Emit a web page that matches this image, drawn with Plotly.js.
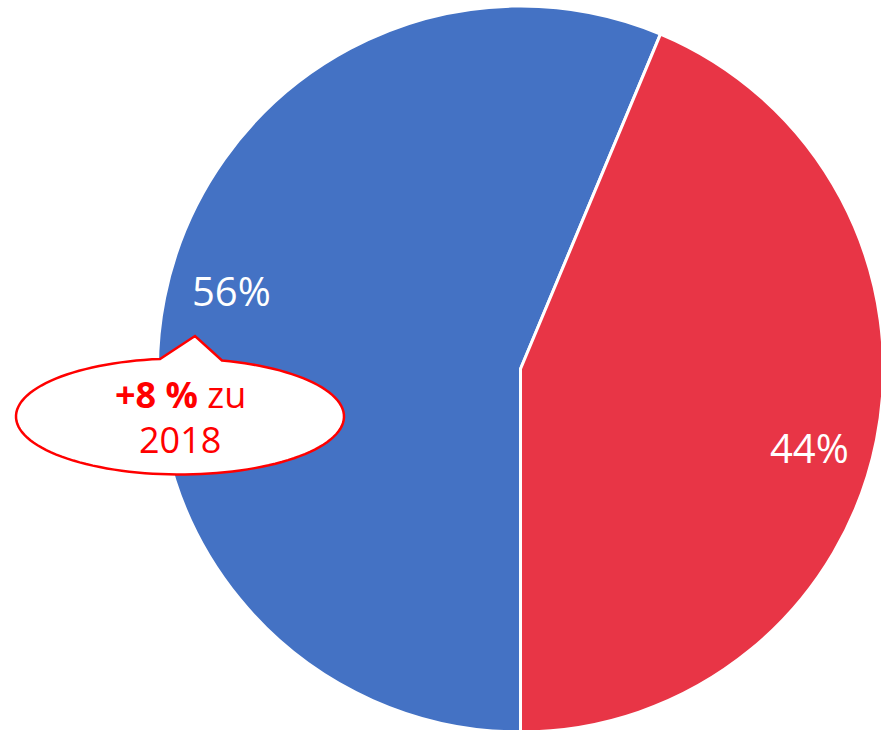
<!DOCTYPE html>
<html>
<head>
<meta charset="utf-8">
<script src="https://cdn.plot.ly/plotly-3.0.1.min.js"></script>
<style>html,body{margin:0;padding:0;background:#fff;overflow:hidden;}#chart{width:900px;height:750px;}</style>
</head>
<body>
<div id="chart"></div>
<script>
const categories = ['Anteil A', 'Anteil B'];
const values = [56.3, 43.7];
const colors = ['#4472C4', '#E83546'];
const calloutBold = '+8 %';
const calloutRest = ' zu';
const calloutLine2 = '2018';

const W = 900, H = 750;
const cx = 520.5, cy = 369, R = 361;
const rotation = 180;
const total = values.reduce((a, b) => a + b, 0);

// label annotations computed from slice angles
const annotations = [];
let start = rotation;
values.forEach((v, i) => {
  const span = v / total * 360;
  const mid = (start + span / 2 + 3.8) * Math.PI / 180;
  const px = cx + 0.83 * R * Math.sin(mid);
  const py = cy - 0.83 * R * Math.cos(mid);
  annotations.push({
    x: px / W, y: 1 - py / H, xref: 'paper', yref: 'paper',
    text: Math.round(v / total * 100) + '%', showarrow: false,
    font: {family: 'Open Sans', size: 40, color: '#ffffff'},
    xanchor: 'center', yanchor: 'middle'
  });
  start += span;
});

// callout bubble (ellipse + pointer) in pixel geometry -> paper
const ecx = 180, ecy = 416.5, erx = 164, ery = 58;
const baseL = 160, baseR = 222, apex = [195, 336];
const tR = -Math.acos((baseR - ecx) / erx);
const tL = -Math.acos((baseL - ecx) / erx) + 2 * Math.PI;
const toP = (x, y) => (x / W).toFixed(5) + ',' + (1 - y / H).toFixed(5);
let path = 'M' + toP(ecx + erx * Math.cos(tR), ecy + ery * Math.sin(tR));
const N = 120;
for (let k = 1; k <= N; k++) {
  const t = tR + (tL - tR) * k / N;
  path += ' L' + toP(ecx + erx * Math.cos(t), ecy + ery * Math.sin(t));
}
path += ' L' + toP(apex[0], apex[1]) + ' Z';

annotations.push({
  x: ecx / W, y: 1 - 395 / H, xref: 'paper', yref: 'paper',
  text: '<b>' + calloutBold + '</b>' + calloutRest, showarrow: false,
  font: {family: 'Open Sans', size: 36, color: '#FF0000'},
  xanchor: 'center', yanchor: 'middle'
});
annotations.push({
  x: ecx / W, y: 1 - 439 / H, xref: 'paper', yref: 'paper',
  text: calloutLine2, showarrow: false,
  font: {family: 'Open Sans', size: 36, color: '#FF0000'},
  xanchor: 'center', yanchor: 'middle'
});

const Rd = R + 2;
const trace = {
  type: 'pie',
  labels: categories,
  values: values,
  sort: false,
  direction: 'clockwise',
  rotation: rotation,
  marker: {colors: colors, line: {color: '#ffffff', width: 3}},
  textinfo: 'none',
  hoverinfo: 'label+percent',
  domain: {x: [(cx - Rd) / W, (cx + Rd) / W], y: [1 - (cy + Rd) / H, 1 - (cy - Rd) / H]},
  showlegend: false
};

const layout = {
  width: W, height: H,
  margin: {l: 0, r: 0, t: 0, b: 0},
  paper_bgcolor: '#ffffff',
  showlegend: false,
  shapes: [{type: 'path', xref: 'paper', yref: 'paper', path: path,
            fillcolor: '#ffffff', line: {color: '#FF0000', width: 2.5}, layer: 'above'}],
  annotations: annotations
};

Plotly.newPlot('chart', [trace], layout, {displayModeBar: false});
</script>
</body>
</html>
